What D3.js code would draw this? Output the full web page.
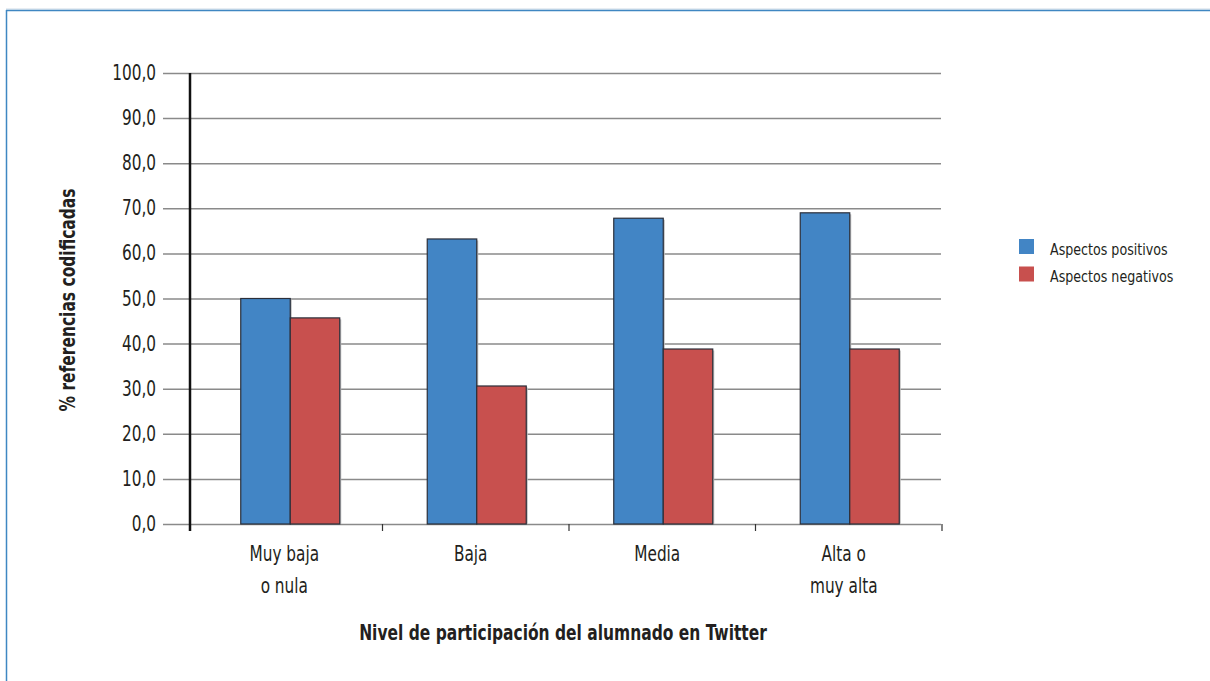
<!DOCTYPE html>
<html><head><meta charset="utf-8">
<script src="https://cdn.jsdelivr.net/npm/d3@7/dist/d3.min.js"></script>
<style>
html,body{margin:0;padding:0;background:#fff;}
svg{display:block;}
text{font-family:"DejaVu Sans Condensed","DejaVu Sans","Liberation Sans",sans-serif;fill:#231f20;}
</style></head>
<body>
<svg id="c" width="1210" height="681"></svg>
<script>
const categories = [["Muy baja","o nula"],["Baja"],["Media"],["Alta o","muy alta"]];
const seriesNames = ["Aspectos positivos","Aspectos negativos"];
const positivos = [50.0, 63.2, 67.8, 69.0];
const negativos = [45.7, 30.6, 38.8, 38.8];
const yTicks = [0,10,20,30,40,50,60,70,80,90,100];
const colors = ["#4285c5","#c8504e"];

(function(){
const svg = d3.select("#c");
const SX = 0.83, SXB = 0.82;
function txt(parent, x, y, s, size, opts){
  opts = opts || {};
  const t = parent.append("text")
    .attr("transform", `translate(${x},${y})` + (opts.rot ? ` rotate(${opts.rot})` : "") + ` scale(${opts.sx || SX},1)`)
    .attr("text-anchor", opts.anchor || "start")
    .style("font-size", size + "px").text(s);
  if (opts.bold) t.style("font-weight","bold");
  return t;
}
// frame
svg.append("line").attr("x1",6).attr("x2",1210).attr("y1",9).attr("y2",9).attr("stroke","#cfdbe6").attr("stroke-width",1);
svg.append("line").attr("x1",6).attr("x2",1210).attr("y1",10.5).attr("y2",10.5).attr("stroke","#3f87c2").attr("stroke-width",1.5);
svg.append("line").attr("x1",6.5).attr("x2",6.5).attr("y1",10).attr("y2",681).attr("stroke","#3f87c2").attr("stroke-width",1.5);

const pLeft = 190, pRight = 941, pTop = 73, pBottom = 524;
const y = d3.scaleLinear().domain([0,100]).range([pBottom, pTop]);
const x0 = d3.scaleBand().domain(d3.range(categories.length)).range([197, 943]).padding(0);
const pairW = 99;
const x1 = d3.scaleBand().domain([0,1]).range([(x0.bandwidth()-pairW)/2, (x0.bandwidth()+pairW)/2]).padding(0);

// gridlines
const gy = svg.append("g").attr("transform",`translate(${pRight},0)`);
gy.call(d3.axisLeft(y).tickValues(yTicks).tickSize(pRight-163).tickFormat(""));
gy.select(".domain").remove();
gy.selectAll(".tick line").attr("stroke","#8a8a8a").attr("stroke-width",1.5);

// y labels
yTicks.forEach(d => txt(svg, 156, y(d)+7, d3.format(".1f")(d).replace(".", ","), 20.5, {anchor:"end"}));

// bars
const data = categories.map((c,i)=>[positivos[i], negativos[i]]);
const groups = svg.selectAll("g.cat").data(data).join("g").attr("class","cat")
  .attr("transform",(d,i)=>`translate(${x0(i)},0)`);
groups.selectAll("rect.sh").data(d=>d).join("rect").attr("class","sh")
  .attr("x",(d,j)=>x1(j)+1.5).attr("y",d=>y(d)+1.5).attr("width",x1.bandwidth()).attr("height",d=>pBottom-y(d)-1.5)
  .attr("fill","#bdbdbd");
groups.selectAll("rect.bar").data(d=>d).join("rect").attr("class","bar")
  .attr("x",(d,j)=>x1(j)).attr("y",d=>y(d)).attr("width",x1.bandwidth()).attr("height",d=>pBottom-y(d))
  .attr("fill",(d,j)=>colors[j]).attr("stroke","#2b2f3a").attr("stroke-width",1.2);

// axis lines
svg.append("line").attr("x1",pLeft).attr("x2",pLeft).attr("y1",pTop).attr("y2",531).attr("stroke","#111").attr("stroke-width",2.5);
// boundary ticks
svg.selectAll("line.bt").data(d3.range(1,categories.length+1)).join("line").attr("class","bt")
  .attr("x1",i=>x0.range()[0]+i*x0.step()-1).attr("x2",i=>x0.range()[0]+i*x0.step()-1)
  .attr("y1",pBottom).attr("y2",531).attr("stroke","#333").attr("stroke-width",1.2);

// category labels
categories.forEach((lines,i)=>{
  const cx = x0(i)+x0.bandwidth()/2 - 6;
  lines.forEach((l,k)=> txt(svg, cx, 561 + k*32, l, 20.5, {anchor:"middle"}));
});

// titles
txt(svg, 563, 640, "Nivel de participación del alumnado en Twitter", 21, {anchor:"middle", bold:true, sx:SXB});
txt(svg, 75, 300, "% referencias codificadas", 21, {anchor:"middle", bold:true, sx:SXB, rot:-90});

// legend
const lg = svg.append("g").attr("transform","translate(1019,239)");
seriesNames.forEach((s,i)=>{
  lg.append("rect").attr("x",0).attr("y",i*27.5).attr("width",15).attr("height",15).attr("fill",colors[i]);
  txt(lg, 31, i*27.5+15.5, s, 16, {sx:0.88});
});
})();
</script>
</body></html>
